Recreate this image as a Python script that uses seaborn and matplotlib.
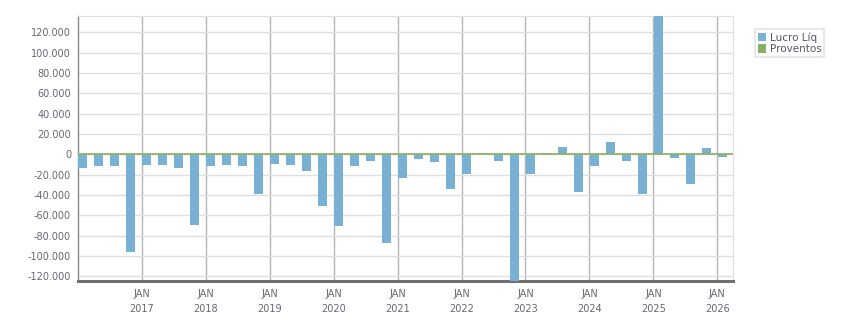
import matplotlib
matplotlib.use("Agg")
from matplotlib import pyplot as plt
from matplotlib.ticker import FuncFormatter
import seaborn as sns
import pandas as pd
import numpy as np

# quarterly net income (1T16 .. 1T26), values in BRL thousands
trimestres = ["%dT%02d" % (q, y) for y in range(16, 27) for q in range(1, 5)][:41]
lucro_liq = [-13500, -12000, -12000, -96000, -11000, -11000, -13500, -69500,
             -12000, -11000, -12000, -38700, -10000, -11000, -16000, -50500,
             -71000, -12000, -7000, -87000, -23000, -5000, -8000, -34000,
             -19000, 1500, -7000, -150000, -19000, 1500, 7500, -37000,
             -12000, 12000, -7000, -39000, 160000, -3500, -29000, 6500,
             -2500]
proventos = [0] * len(trimestres)
anos = list(range(2017, 2027))
yticks = list(range(-120000, 120001, 20000))

# position of each quarter on a fractional-year axis
pos = [2000 + int(t[2:]) + (int(t[0]) - 1) * 0.25 + 0.148 for t in trimestres]

df = pd.concat([
    pd.DataFrame({"x": pos, "valor": lucro_liq, "serie": "Lucro Líq"}),
    pd.DataFrame({"x": pos, "valor": proventos, "serie": "Proventos"}),
])

sns.set_style("white")
plt.rcParams["font.family"] = ["DejaVu Sans"]
txt = "#666670"

fig = plt.figure(figsize=(8.51, 3.13), dpi=100)
ax = fig.add_axes([78 / 851, 1 - 281 / 313, (733 - 78) / 851, (281 - 16) / 313])

sns.barplot(data=df, x="x", y="valor", hue="serie", native_scale=True, dodge=True,
            width=1.125, palette=["#78b1d3", "#88ae68"], saturation=1,
            linewidth=0, ax=ax, zorder=3)
ax.axhline(0, color="#8ab35a", lw=1.2, zorder=4)

ax.set_xlim(2016.0, 2026.246)
ax.set_ylim(-124600, 136000)
ax.set_yticks(yticks)
ax.yaxis.set_major_formatter(FuncFormatter(lambda v, p: "{:,.0f}".format(v).replace(",", ".")))
ax.set_xticks(anos)
ax.set_xticklabels(["JAN\n%d" % a for a in anos])
ax.set_xlabel("")
ax.set_ylabel("")

ax.yaxis.grid(True, color="#dedede", lw=1, zorder=0)
ax.xaxis.grid(True, color="#b4b4b4", lw=1, zorder=1)
ax.set_axisbelow(True)
ax.tick_params(axis="both", labelsize=7, colors=txt, length=4, width=1)
ax.tick_params(axis="x", color="#b4b4b4", pad=2)
ax.tick_params(axis="y", color="#888888", pad=1)
for lab in ax.get_xticklabels():
    lab.set_linespacing(1.6)

ax.spines["left"].set_color("#888888")
ax.spines["left"].set_linewidth(1)
ax.spines["bottom"].set_color("#707070")
ax.spines["bottom"].set_linewidth(2.2)
ax.spines["top"].set_color("#e0e0e0")
ax.spines["right"].set_color("#e0e0e0")

leg = ax.legend(loc="upper left", bbox_to_anchor=(755 / 851, 1 - 29 / 313),
                bbox_transform=fig.transFigure, fontsize=7.5, frameon=True,
                fancybox=False, edgecolor="#dddddd", handlelength=0.8,
                handleheight=0.9, handletextpad=0.3, borderpad=0.3,
                labelspacing=0.15, borderaxespad=0)
for t in leg.get_texts():
    t.set_color("#555566")
leg.get_frame().set_linewidth(1.2)

fig.savefig("out.png", dpi=100)
